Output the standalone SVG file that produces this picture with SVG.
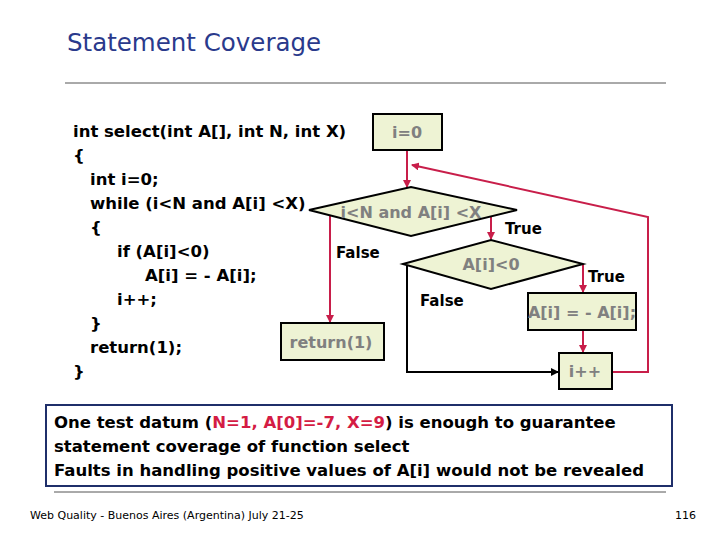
<svg xmlns="http://www.w3.org/2000/svg" width="720" height="540" viewBox="0 0 720 540">
<style>
.code{font-family:"DejaVu Sans",sans-serif;font-weight:bold;font-size:16.5px;fill:#000}
.box{fill:#eef3d4;stroke:#000;stroke-width:2}
.nt{font-family:"DejaVu Sans",sans-serif;font-weight:bold;font-size:16px;fill:#808080;text-anchor:middle}
.lbl{font-family:"DejaVu Sans",sans-serif;font-weight:bold;font-size:15px;fill:#000}
.red{stroke:#c81e4a;stroke-width:2;fill:none}
.blk{stroke:#000;stroke-width:2;fill:none}
.msg{font-family:"DejaVu Sans",sans-serif;font-weight:bold;font-size:16.5px;fill:#000}
</style>
<defs>
<marker id="ar" markerWidth="8" markerHeight="8" refX="7" refY="4" orient="auto" markerUnits="userSpaceOnUse"><path d="M0,0 L8,4 L0,8 z" fill="#c81e4a"/></marker>
<marker id="ab" markerWidth="8" markerHeight="8" refX="7" refY="4" orient="auto" markerUnits="userSpaceOnUse"><path d="M0,0 L8,4 L0,8 z" fill="#000"/></marker>
</defs>
<rect width="720" height="540" fill="#fff"/>
<text x="67" y="51" font-family="'DejaVu Sans',sans-serif" font-size="24.5" fill="#2a3a8c">Statement Coverage</text>
<line x1="65" y1="83" x2="666" y2="83" stroke="#555" stroke-width="1"/>
<g id="code">
<text class="code" x="73" y="137">int select(int A[], int N, int X)</text>
<text class="code" x="73" y="161">{</text>
<text class="code" x="90" y="185">int i=0;</text>
<text class="code" x="90" y="209">while (i&lt;N and A[i] &lt;X)</text>
<text class="code" x="90" y="233">{</text>
<text class="code" x="117" y="257">if (A[i]&lt;0)</text>
<text class="code" x="145" y="281">A[i] = - A[i];</text>
<text class="code" x="117" y="305">i++;</text>
<text class="code" x="90" y="329">}</text>
<text class="code" x="90" y="353">return(1);</text>
<text class="code" x="73" y="377">}</text>
</g>
<g id="connectors">
<line class="red" x1="407" y1="150" x2="407" y2="187" marker-end="url(#ar)"/>
<polyline class="red" points="613,372 648,372 648,217 412,165" marker-end="url(#ar)"/>
<line class="red" x1="330" y1="212" x2="330" y2="322" marker-end="url(#ar)"/>
<line class="red" x1="491" y1="216" x2="491" y2="239" marker-end="url(#ar)"/>
<line class="red" x1="583" y1="264" x2="583" y2="292" marker-end="url(#ar)"/>
<line class="red" x1="583" y1="330" x2="583" y2="352" marker-end="url(#ar)"/>
<polyline class="blk" points="407,266 407,372 558,372" marker-end="url(#ab)"/>
</g>
<g id="n-init"><rect class="box" x="373" y="114" width="69" height="36"/><text class="nt" x="407" y="138">i=0</text></g>
<g id="n-cond1"><polygon class="box" points="309,210 411,187 517,210 411,236"/><text class="nt" x="411" y="218">i&lt;N and A[i] &lt;X</text></g>
<g id="n-cond2"><polygon class="box" points="403,264 491,240 583,264 491,289"/><text class="nt" x="491" y="270">A[i]&lt;0</text></g>
<g id="n-neg"><rect class="box" x="528" y="293" width="108" height="37"/><text class="nt" x="582" y="318">A[i] = - A[i];</text></g>
<g id="n-inc"><rect class="box" x="559" y="353" width="53" height="36"/><text class="nt" x="585" y="377">i++</text></g>
<g id="n-ret"><rect class="box" x="281" y="323" width="103" height="37"/><text class="nt" x="331" y="348">return(1)</text></g>
<g id="labels">
<text class="lbl" x="505" y="234">True</text>
<text class="lbl" x="336" y="258">False</text>
<text class="lbl" x="588" y="282">True</text>
<text class="lbl" x="420" y="306">False</text>
</g>
<g id="note">
<rect x="46" y="405" width="626" height="81" fill="#fff" stroke="#1f2f6a" stroke-width="2"/>
<text class="msg" x="54" y="428">One test datum (<tspan fill="#d41c44">N=1, A[0]=-7, X=9</tspan>) is enough to guarantee</text>
<text class="msg" x="54" y="452">statement coverage of function select</text>
<text class="msg" x="54" y="476">Faults in handling positive values of A[i] would not be revealed</text>
</g>
<line x1="54" y1="492" x2="666" y2="492" stroke="#555" stroke-width="1"/>
<text x="30" y="519" font-family="'DejaVu Sans',sans-serif" font-size="11" fill="#000">Web Quality - Buenos Aires (Argentina) July 21-25</text>
<text x="696" y="519" font-family="'DejaVu Sans',sans-serif" font-size="11" fill="#000" text-anchor="end">116</text>
</svg>
